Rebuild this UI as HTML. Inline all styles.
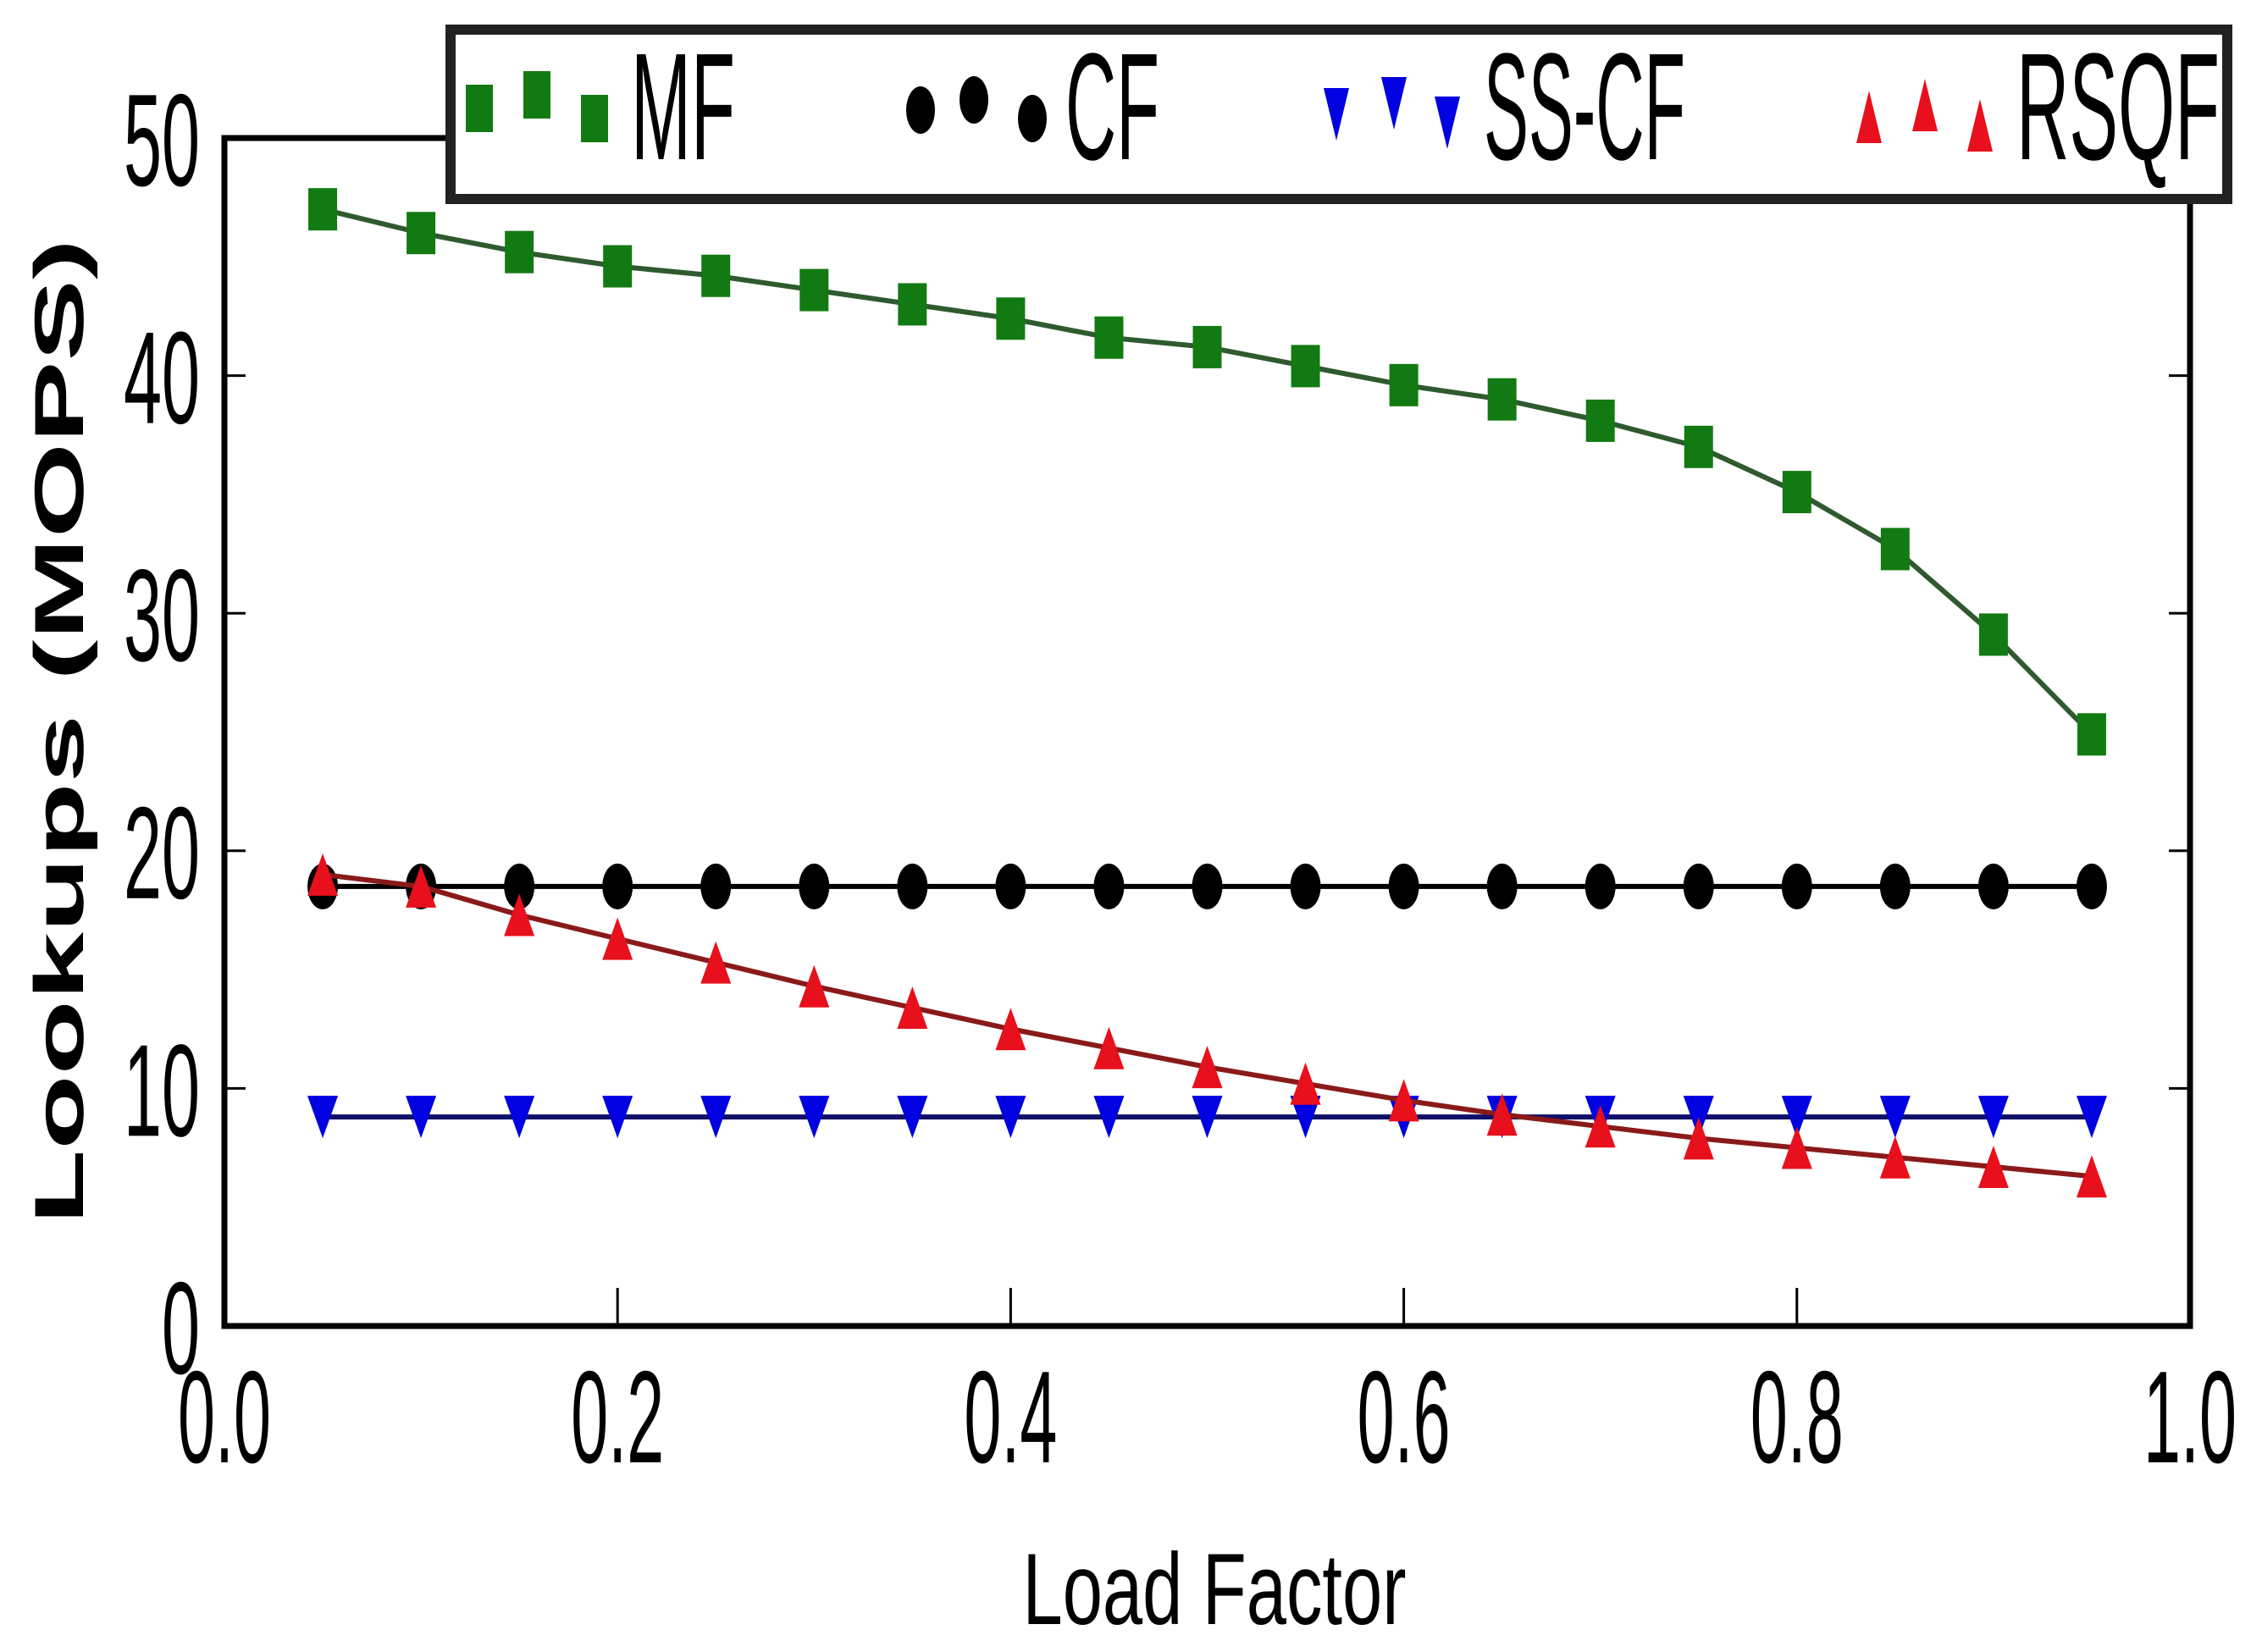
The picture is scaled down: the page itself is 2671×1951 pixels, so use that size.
<!DOCTYPE html>
<html><head><meta charset="utf-8"><style>
html,body{margin:0;padding:0;background:#fff;}
svg{display:block;}
text{font-family:"Liberation Sans",sans-serif;fill:#000;}
</style></head><body>
<svg id="chart" width="2671" height="1951" viewBox="0 0 2671 1951" xmlns="http://www.w3.org/2000/svg">
<g id="plot"></g>
</svg>
<script>
const loadFactors = [0.05,0.10,0.15,0.20,0.25,0.30,0.35,0.40,0.45,0.50,0.55,0.60,0.65,0.70,0.75,0.80,0.85,0.90,0.95];
const mfValues = [47.0,46.0,45.2,44.6,44.2,43.6,43.0,42.4,41.6,41.2,40.4,39.6,39.0,38.1,37.0,35.1,32.7,29.1,24.9];
const cfValues = [18.5,18.5,18.5,18.5,18.5,18.5,18.5,18.5,18.5,18.5,18.5,18.5,18.5,18.5,18.5,18.5,18.5,18.5,18.5];
const sscfValues = [8.8,8.8,8.8,8.8,8.8,8.8,8.8,8.8,8.8,8.8,8.8,8.8,8.8,8.8,8.8,8.8,8.8,8.8,8.8];
const rsqfValues = [19.0,18.5,17.3,16.3,15.3,14.3,13.4,12.5,11.7,10.9,10.2,9.5,8.9,8.4,7.9,7.5,7.1,6.7,6.3];
const xTicks = [0.0,0.2,0.4,0.6,0.8,1.0];
const xTickLabels = ["0.0","0.2","0.4","0.6","0.8","1.0"];
const yTicks = [0,10,20,30,40,50];
const yTickLabels = ["0","10","20","30","40","50"];

const NS = "http://www.w3.org/2000/svg";
const L = 265, R = 2586, T = 163, B = 1566;
function xs(v){ return L + (v - 0) / (1 - 0) * (R - L); }
function ys(v){ return B - (v - 0) / (50 - 0) * (B - T); }
const g = document.getElementById('plot');
function mk(tag, attrs, parent){
  const e = document.createElementNS(NS, tag);
  for (const k in attrs) e.setAttribute(k, attrs[k]);
  (parent || g).appendChild(e);
  return e;
}
function square(x,y,c,p,w,h){ return mk('rect',{x:x-w/2,y:y-h/2,width:w,height:h,fill:c},p); }
function circle(x,y,c,p,w,h){ return mk('ellipse',{cx:x,cy:y,rx:w/2,ry:h/2,fill:c},p); }
function triUp(x,y,c,p,w,h){ return mk('polygon',{points:`${x},${y-h/2} ${x+w/2},${y+h/2} ${x-w/2},${y+h/2}`,fill:c},p); }
function triDown(x,y,c,p,w,h){ return mk('polygon',{points:`${x-w/2},${y-h/2} ${x+w/2},${y-h/2} ${x},${y+h/2}`,fill:c},p); }

const ticks = mk('g',{});


xTicks.forEach((v,i)=>{
  const x = xs(v);
  mk('line',{x1:x,y1:B,x2:x,y2:B-45,stroke:'#000','stroke-width':3},ticks);
  mk('line',{x1:x,y1:T,x2:x,y2:T+45,stroke:'#000','stroke-width':3},ticks);
  const t = mk('text',{x:x,y:1727,'text-anchor':'middle','font-size':155,textLength:110,lengthAdjust:'spacingAndGlyphs'});
  t.textContent = xTickLabels[i];
  
  
});
yTicks.forEach((v,i)=>{
  const y = ys(v);
  mk('line',{x1:L,y1:y,x2:L+25,y2:y,stroke:'#000','stroke-width':3},ticks);
  mk('line',{x1:R,y1:y,x2:R-25,y2:y,stroke:'#000','stroke-width':3},ticks);
  const w = yTickLabels[i].length*45;
  const t = mk('text',{x:236,y:y+56,'text-anchor':'end','font-size':155,textLength:w,lengthAdjust:'spacingAndGlyphs'});
  t.textContent = yTickLabels[i];
  
  
});

const series = [
  {name:'mf', vals:mfValues, color:'#127a12', line:'#2f5a2f', fn:square, w:34, h:50},
  {name:'cf', vals:cfValues, color:'#000', line:'#000', fn:circle, w:36, h:54},
  {name:'sscf', vals:sscfValues, color:'#0000e0', line:'#10106a', fn:triDown, w:36, h:50},
  {name:'rsqf', vals:rsqfValues, color:'#e8101c', line:'#8a1a1a', fn:triUp, w:36, h:50}
];
series.forEach(s=>{
  const sg = mk('g',{});
  
  
  const pts = loadFactors.map((x,i)=>xs(x)+','+ys(s.vals[i])).join(' ');
  const pl = mk('polyline',{points:pts,fill:'none',stroke:s.line,'stroke-width':6},sg);
  
  
  loadFactors.forEach((x,i)=>{
    const m = s.fn(xs(x), ys(s.vals[i]), s.color, sg, s.w, s.h);
    
    
  });
});

const fr = mk('rect',{x:L,y:T,width:R-L,height:B-T,fill:'none',stroke:'#000','stroke-width':7});



const lg = mk('g',{});


mk('rect',{x:532,y:35,width:2098,height:200,fill:'#fff',stroke:'#222','stroke-width':12},lg);
const entries = [
  {label:'MF', fn:square, c:'#127a12', xs:[566,634,702], ty:[128,112,140], tx:745, tw:123, w:32,h:56},
  {label:'CF', fn:circle, c:'#000', xs:[1087,1150,1219], ty:[130,118,140], tx:1258, tw:111, w:34,h:56},
  {label:'SS-CF', fn:triDown, c:'#0000e0', xs:[1578,1646,1709], ty:[135,122,145], tx:1752, tw:238, w:30,h:62},
  {label:'RSQF', fn:triUp, c:'#e8101c', xs:[2207,2273,2338], ty:[138,124,148], tx:2381, tw:240, w:30,h:62}
];
entries.forEach(e=>{
  const eg = mk('g',{},lg);
  
  
  e.xs.forEach((x,i)=>e.fn(x,e.ty[i],e.c,eg,e.w,e.h));
  const t = mk('text',{x:e.tx,y:188,'font-size':180,textLength:e.tw,lengthAdjust:'spacingAndGlyphs'},eg);
  t.textContent = e.label;
});

const xt = mk('text',{x:1434,y:1918,'text-anchor':'middle','font-size':120,textLength:453,lengthAdjust:'spacingAndGlyphs'});
xt.textContent = 'Load Factor';


const yt = mk('text',{x:0,y:0,'text-anchor':'middle','font-size':82,'font-weight':'bold',textLength:1164,lengthAdjust:'spacingAndGlyphs',transform:'translate(98,864) rotate(-90)'});
yt.textContent = 'Lookups (MOPS)';


</script>
</body></html>
